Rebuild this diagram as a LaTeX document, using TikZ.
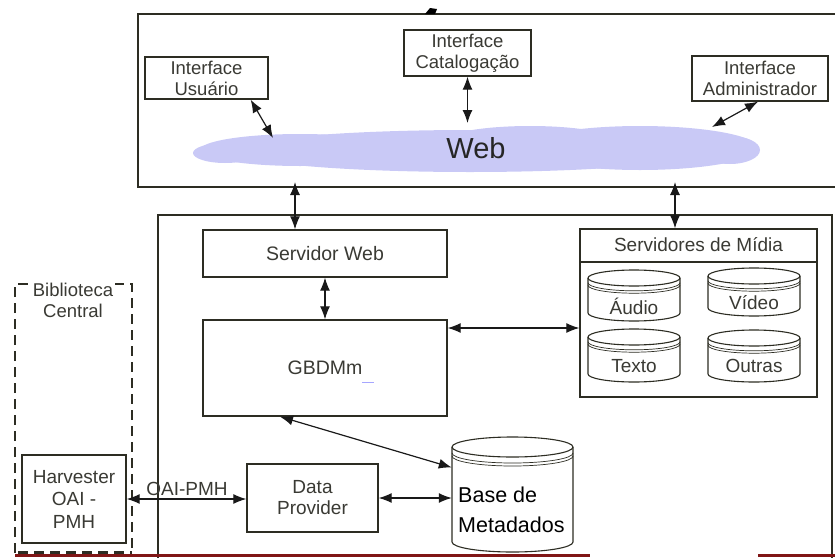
\documentclass[tikz,border=0pt]{standalone}
\usepackage{fontspec}
\setmainfont{Liberation Sans}
\usetikzlibrary{arrows.meta,calc}

\definecolor{edge}{RGB}{45,45,35}
\definecolor{labelgray}{RGB}{58,58,52}
\definecolor{webcloud}{RGB}{201,201,246}
\definecolor{cropred}{RGB}{128,22,22}

% cylinder (database) drawn from its bounding box: left, top, right, bottom, ellipse y-radius
\newcommand\dbcyl[5]{%
  \pgfmathsetmacro\cylrx{(#3-#1)/2}%
  \draw[cylline,fill=white] (#1,#2+#5) arc[start angle=180,end angle=360,x radius=\cylrx,y radius=#5]
     -- (#3,#4-#5) arc[start angle=0,end angle=180,x radius=\cylrx,y radius=#5] -- cycle;
  \draw[cylline] (#1,#2+#5) arc[start angle=180,end angle=0,x radius=\cylrx,y radius=#5];
  \draw[cylline,line width=0.7pt] (#1,#2+1.6*#5) arc[start angle=180,end angle=0,x radius=\cylrx,y radius=#5];
  \draw[cylline,line width=0.7pt] (#1,#2+1.9*#5) arc[start angle=180,end angle=0,x radius=\cylrx,y radius=#5];
}

\tikzset{
  frame/.style={draw=edge, line width=1.8pt},
  box/.style={draw=edge, line width=1.3pt, fill=white, inner sep=0pt,
              font=\fontsize{18.5}{21}\selectfont, text=labelgray, align=center},
  cylline/.style={draw=edge, line width=1.1pt},
  lbl/.style={inner sep=0pt, font=\fontsize{19}{21}\selectfont, text=labelgray, align=center},
  arr/.style={{Latex[length=13pt,width=10pt]}-{Latex[length=13pt,width=10pt]}, draw=black!90, line width=1.2pt},
}

\begin{document}
\begin{tikzpicture}[x=1pt,y=-1pt]
\useasboundingbox (0,0) rectangle (835,557);

% outer frames
\draw[frame] (836,14) -- (138,14) -- (138,187) -- (836,187);
\fill[black] (425,14) -- (430,8) -- (437,9) -- (435,14) -- cycle;
\draw[frame,line width=1.4pt] (158,558) -- (158,215) -- (832,215) -- (832,558);

% web cloud
\begin{scope}[fill=webcloud]
  \fill (470,151) ellipse[x radius=235, y radius=21];
  \fill (300,150) ellipse[x radius=100, y radius=16];
  \fill (225,153) ellipse[x radius=32, y radius=10];
  \fill (640,148) ellipse[x radius=118, y radius=22];
  \fill (530,141) ellipse[x radius=85, y radius=15];
  \fill (730,150) ellipse[x radius=30, y radius=14];
\end{scope}
\node[inner sep=0pt, font=\fontsize{29}{30}\selectfont, text=black!85] (web) at (476,148) {Web};

% interface boxes
\node[box, minimum width=123pt, minimum height=42pt] (usr) at (206.5,78) {Interface\\Usuário};
\node[box, minimum width=127pt, minimum height=46pt] (cat) at (467.5,53) {Interface\\Catalogação};
\node[box, minimum width=136pt, minimum height=45pt] (adm) at (760,78.5) {Interface\\Administrador};

\coordinate (webL) at (273,138);
\coordinate (webC) at (467.5,123);
\coordinate (webR) at (712,127);
\coordinate (upL) at (295,182);
\coordinate (upR) at (675,182);

% server side
\node[box, minimum width=244pt, minimum height=47pt, font=\fontsize{19.5}{21}\selectfont] (sw) at (325,253.5) {Servidor Web};
\node[box, minimum width=244pt, minimum height=96pt, font=\fontsize{19.5}{21}\selectfont] (gb) at (325,368) {GBDMm};
\draw[blue!35, line width=0.9pt] (362,382) -- (374,382);

\node[box, minimum width=237pt, minimum height=168pt] (med) at (698.5,313) {};
\draw[edge, line width=1.2pt] (580,262) -- (817,262);
\node[lbl] (medt) at (698.5,245) {Servidores de Mídia};

\dbcyl{588}{270}{680}{321}{8}
\dbcyl{708}{268}{800}{316}{8}
\dbcyl{588}{329}{680}{382}{8}
\dbcyl{708}{330}{800}{382}{8}
\node[lbl] (aud) at (634,306) {Áudio};
\node[lbl] (vid) at (754,303) {Vídeo};
\node[lbl] (txt) at (634,366) {Texto};
\node[lbl] (out) at (754,366) {Outras};

% metadata base
\dbcyl{452}{437}{573}{552}{10}
\node[inner sep=0pt, minimum width=121pt, minimum height=115pt] (base) at (512.5,494.5) {};
\node[inner sep=0pt, anchor=west, align=left, font=\fontsize{21.5}{30}\selectfont, text=black] (baset) at (458,510) {Base de\\Metadados};

% data provider
\node[box, minimum width=131pt, minimum height=68pt, font=\fontsize{19}{21}\selectfont] (dp) at (312.5,498) {Data\\Provider};

% central library
\draw[edge, line width=1.4pt, dash pattern=on 10pt off 6pt] (15,553) -- (15,284) -- (132,284) -- (132,553);
\draw[edge, line width=3.5pt, dash pattern=on 10pt off 6pt] (18,553) -- (132,553);
\node[lbl, fill=white, inner xsep=2pt, font=\fontsize{18.5}{21}\selectfont] (bib) at (73,300) {Biblioteca\\Central};
\node[box, minimum width=104pt, minimum height=88pt, font=\fontsize{19}{22.5}\selectfont] (hv) at (74,499) {Harvester\\OAI -\\PMH};

% connectors
\draw[arr] ([xshift=-18pt]usr.south east) -- (webL);
\draw[arr] (cat.south) -- (webC);
\draw[arr] ([xshift=-2pt]adm.south) -- (webR);
\draw[arr] (upL) -- (upL |- sw.north);
\draw[arr] (upR) -- (upR |- med.north);
\draw[arr] (sw.south) -- (gb.north);
\draw[arr] ([yshift=40pt]gb.east) -- ([yshift=40pt]gb.east -| med.west);
\draw[arr] ([xshift=-45pt]gb.south) -- ([yshift=27pt]base.west);
\draw[arr] (dp.east) -- (dp.east -| base.west);
\draw[arr] (hv.east) -- (hv.east -| dp.west);
\node[lbl, anchor=base] (oai) at (187,495) {OAI-PMH};

% cropped strip at the bottom
\draw[cropred, line width=3pt] (15,555.5) -- (590,555.5);
\draw[cropred, line width=3pt] (758,555.5) -- (835,555.5);
\end{tikzpicture}
\end{document}
